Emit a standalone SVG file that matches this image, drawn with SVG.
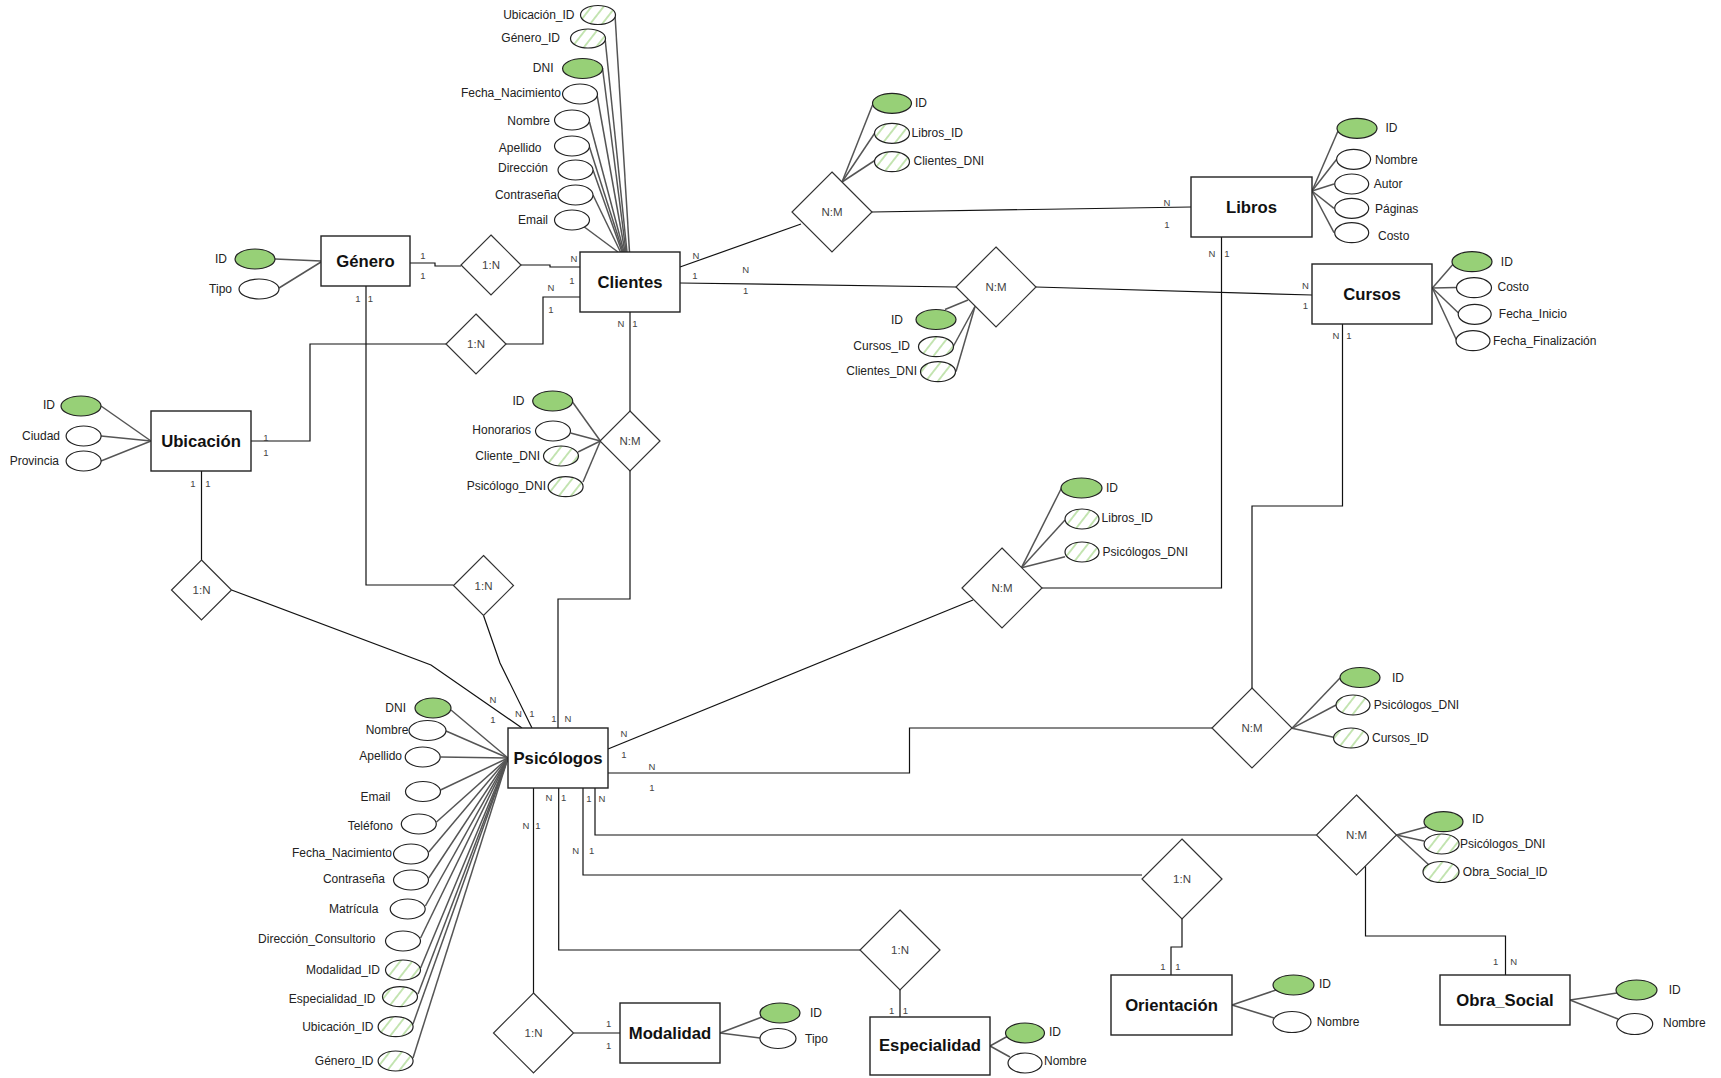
<svg xmlns="http://www.w3.org/2000/svg" width="1721" height="1078" viewBox="0 0 1721 1078">
<defs>
<pattern id="hatch" patternUnits="userSpaceOnUse" width="9.5" height="9.5" patternTransform="rotate(38)">
<rect width="9.5" height="9.5" fill="#fff"/>
<line x1="4.75" y1="0" x2="4.75" y2="9.5" stroke="#97D077" stroke-width="1.1"/>
</pattern>
<style>
.ent rect{fill:#fff;stroke:#222;stroke-width:1.4}
.ent text{font-family:"Liberation Sans",Arial,sans-serif;font-weight:bold;font-size:16.7px;fill:#111;text-anchor:middle;dominant-baseline:central}
.rel polygon{fill:#fff;stroke:#333;stroke-width:1.2}
.rel text{font-family:"Liberation Sans",Arial,sans-serif;font-size:11.5px;fill:#444;text-anchor:middle;dominant-baseline:central}
.att ellipse{fill:#fff;stroke:#222;stroke-width:1.2}
.att.pk ellipse{fill:#97D077}
.att.fk ellipse{fill:url(#hatch)}
.att text{font-family:"Liberation Sans",Arial,sans-serif;font-size:12px;fill:#222;dominant-baseline:central}
.att text.l{text-anchor:end}
#connectors path{fill:none;stroke:#111;stroke-width:1.2}
#connectors line{stroke:#555;stroke-width:1.5}
#connectors text{font-family:"Liberation Sans",Arial,sans-serif;font-size:9.5px;fill:#444;text-anchor:middle;dominant-baseline:central}
</style>
</defs>
<rect width="1721" height="1078" fill="#fff"/>

<g id="connectors">
<!-- relationship connectors -->
<path d="M410,263 H435 V266 H461"/>
<path d="M521,265 H550 V267 H580"/>
<path d="M580,297 H543 V344 H506"/>
<path d="M446,344 H310 V441 H251"/>
<path d="M366,286 V585 H453.5"/>
<path d="M483.5,615.5 L500,663 L532,728"/>
<path d="M201.5,471 V560"/>
<path d="M231.5,590 L431,665 L522,728"/>
<path d="M630,312 V411"/>
<path d="M630,471 V599 H558 V728"/>
<path d="M680,267 L801,224"/>
<path d="M872,212 L1191,207"/>
<path d="M680,283 L956,287"/>
<path d="M1036,287 L1312,295"/>
<path d="M1221.5,237 V588 H1042"/>
<path d="M973,600 L608,749"/>
<path d="M1342.5,324 V506 H1252 V688"/>
<path d="M1212,728 H909.5 V773 H608"/>
<path d="M595,788 V835 H1316.5"/>
<path d="M1365.5,866 V936 H1505.5 V975"/>
<path d="M583,788 V875 H1142"/>
<path d="M1182,919 V947 H1171 V975"/>
<path d="M558.7,788 V950 H860"/>
<path d="M900,990 V1017"/>
<path d="M533.5,788 V993"/>
<path d="M573.5,1033 H620"/>
<!-- attribute links -->
<line x1="615" y1="15" x2="629.5" y2="252"/>
<line x1="605" y1="38" x2="627" y2="252"/>
<line x1="602.5" y1="68" x2="626" y2="252"/>
<line x1="597" y1="95" x2="625" y2="252"/>
<line x1="589.5" y1="122" x2="624" y2="252"/>
<line x1="589.5" y1="147" x2="623" y2="252"/>
<line x1="593" y1="170" x2="622" y2="252"/>
<line x1="593" y1="195" x2="620.5" y2="252"/>
<line x1="583" y1="226" x2="618" y2="252"/>
<line x1="275" y1="259" x2="321" y2="261"/>
<line x1="279" y1="288" x2="321" y2="262"/>
<line x1="101" y1="406" x2="151" y2="441"/>
<line x1="101" y1="436" x2="151" y2="441"/>
<line x1="101" y1="461" x2="151" y2="441"/>
<line x1="572.5" y1="402" x2="600.4" y2="441"/>
<line x1="570.5" y1="433" x2="600.4" y2="441"/>
<line x1="578" y1="452" x2="600.4" y2="441"/>
<line x1="583" y1="482" x2="600.4" y2="441"/>
<line x1="874.5" y1="100" x2="842" y2="182"/>
<line x1="875.5" y1="132" x2="842" y2="182"/>
<line x1="875.5" y1="160" x2="842" y2="182"/>
<line x1="945" y1="309.5" x2="968" y2="300"/>
<line x1="953.5" y1="346" x2="975" y2="306.5"/>
<line x1="956" y1="371.5" x2="975" y2="306.5"/>
<line x1="1338" y1="131" x2="1312" y2="191"/>
<line x1="1336.7" y1="159.3" x2="1312" y2="191"/>
<line x1="1334" y1="184" x2="1312" y2="191"/>
<line x1="1334" y1="208.3" x2="1312" y2="191"/>
<line x1="1334" y1="232.7" x2="1312" y2="191"/>
<line x1="1455" y1="262" x2="1432.4" y2="288"/>
<line x1="1456.5" y1="287.5" x2="1432.4" y2="288"/>
<line x1="1458.5" y1="313" x2="1432.4" y2="288"/>
<line x1="1456.5" y1="340" x2="1432.4" y2="288"/>
<line x1="1062" y1="487" x2="1021.5" y2="567.7"/>
<line x1="1065" y1="520" x2="1021.5" y2="567.7"/>
<line x1="1065" y1="556.7" x2="1021.5" y2="567.7"/>
<line x1="1340" y1="678" x2="1292" y2="728.3"/>
<line x1="1336" y1="705" x2="1292" y2="728.3"/>
<line x1="1333.5" y1="737.3" x2="1292" y2="728.3"/>
<line x1="1426" y1="827" x2="1396.5" y2="835"/>
<line x1="1424" y1="841" x2="1396.5" y2="835"/>
<line x1="1429" y1="865" x2="1396.5" y2="835"/>
<line x1="451" y1="710" x2="508" y2="758"/>
<line x1="446" y1="731" x2="508" y2="758"/>
<line x1="440.5" y1="757" x2="508" y2="758"/>
<line x1="440.5" y1="790" x2="508" y2="758"/>
<line x1="436.5" y1="822" x2="508" y2="758"/>
<line x1="428.8" y1="852" x2="508" y2="758"/>
<line x1="428.8" y1="878" x2="508" y2="758"/>
<line x1="425.4" y1="906" x2="508" y2="758"/>
<line x1="420.6" y1="938" x2="508" y2="758"/>
<line x1="420.6" y1="968" x2="508" y2="758"/>
<line x1="418" y1="994" x2="508" y2="758"/>
<line x1="413" y1="1024" x2="508" y2="758"/>
<line x1="413" y1="1058" x2="508" y2="758"/>
<line x1="720" y1="1033" x2="762" y2="1017"/>
<line x1="720" y1="1033" x2="760" y2="1038"/>
<line x1="990" y1="1046" x2="1008" y2="1036"/>
<line x1="990" y1="1046" x2="1010" y2="1057"/>
<line x1="1232" y1="1005" x2="1276" y2="990"/>
<line x1="1232" y1="1005" x2="1274" y2="1018"/>
<line x1="1570" y1="1000" x2="1617" y2="993"/>
<line x1="1570" y1="1000" x2="1618" y2="1019"/>
<!-- cardinalities -->
<text x="423" y="255">1</text><text x="423" y="275">1</text>
<text x="574" y="258">N</text><text x="572" y="280">1</text>
<text x="551" y="287">N</text><text x="551" y="309">1</text>
<text x="266" y="437">1</text><text x="266" y="452">1</text>
<text x="358" y="298">1</text><text x="370.5" y="298">1</text>
<text x="193" y="483">1</text><text x="208" y="483">1</text>
<text x="621" y="323">N</text><text x="635" y="323">1</text>
<text x="696" y="255">N</text><text x="695" y="275">1</text>
<text x="745.6" y="269">N</text><text x="745.6" y="290">1</text>
<text x="1167" y="202">N</text><text x="1167" y="224">1</text>
<text x="1212" y="253">N</text><text x="1227" y="253">1</text>
<text x="1305.5" y="285">N</text><text x="1305.5" y="305">1</text>
<text x="1336" y="335">N</text><text x="1349" y="335">1</text>
<text x="493" y="699">N</text><text x="493" y="719">1</text>
<text x="518.5" y="713">N</text><text x="532" y="713">1</text>
<text x="554" y="718">1</text><text x="568" y="718">N</text>
<text x="624" y="733">N</text><text x="624" y="754">1</text>
<text x="652" y="766">N</text><text x="652" y="787">1</text>
<text x="526" y="825">N</text><text x="538" y="825">1</text>
<text x="549" y="797">N</text><text x="563.6" y="797">1</text>
<text x="589" y="798">1</text><text x="602" y="798">N</text>
<text x="575.7" y="850">N</text><text x="591.7" y="850">1</text>
<text x="608.6" y="1023">1</text><text x="608.6" y="1045">1</text>
<text x="891.7" y="1010">1</text><text x="905.5" y="1010">1</text>
<text x="1163" y="966">1</text><text x="1178" y="966">1</text>
<text x="1495.7" y="961">1</text><text x="1513.7" y="961">N</text>
</g>

<!-- Entities -->
<g id="genero" class="ent"><rect x="321" y="236" width="89" height="50"/><text x="365.5" y="261">Género</text></g>
<g id="clientes" class="ent"><rect x="580" y="252" width="100" height="60"/><text x="630" y="282">Clientes</text></g>
<g id="libros" class="ent"><rect x="1191" y="177" width="121" height="60"/><text x="1251.5" y="207">Libros</text></g>
<g id="cursos" class="ent"><rect x="1312" y="264" width="120" height="60"/><text x="1372" y="294">Cursos</text></g>
<g id="ubicacion" class="ent"><rect x="151" y="411" width="100" height="60"/><text x="201" y="441">Ubicación</text></g>
<g id="psicologos" class="ent"><rect x="508" y="728" width="100" height="60"/><text x="558" y="758">Psicólogos</text></g>
<g id="modalidad" class="ent"><rect x="620" y="1003" width="100" height="60"/><text x="670" y="1033">Modalidad</text></g>
<g id="especialidad" class="ent"><rect x="870" y="1017" width="120" height="58"/><text x="930" y="1045">Especialidad</text></g>
<g id="orientacion" class="ent"><rect x="1111" y="975" width="121" height="60"/><text x="1171.5" y="1005">Orientación</text></g>
<g id="obra_social" class="ent"><rect x="1440" y="975" width="130" height="50"/><text x="1505" y="1000">Obra_Social</text></g>

<!-- Relationships -->
<g id="rel_genero_clientes" class="rel"><polygon points="491,235 521,265 491,295 461,265"/><text x="491" y="265">1:N</text></g>
<g id="rel_ubicacion_clientes" class="rel"><polygon points="476,314 506,344 476,374 446,344"/><text x="476" y="344">1:N</text></g>
<g id="rel_clientes_psicologos" class="rel"><polygon points="630,411 660,441 630,471 600,441"/><text x="630" y="441">N:M</text></g>
<g id="rel_ubicacion_psicologos" class="rel"><polygon points="201.5,560 231.5,590 201.5,620 171.5,590"/><text x="201.5" y="590">1:N</text></g>
<g id="rel_genero_psicologos" class="rel"><polygon points="483.5,555.5 513.5,585.5 483.5,615.5 453.5,585.5"/><text x="483.5" y="585.5">1:N</text></g>
<g id="rel_clientes_libros" class="rel"><polygon points="832,172 872,212 832,252 792,212"/><text x="832" y="212">N:M</text></g>
<g id="rel_clientes_cursos" class="rel"><polygon points="996,247 1036,287 996,327 956,287"/><text x="996" y="287">N:M</text></g>
<g id="rel_libros_psicologos" class="rel"><polygon points="1002,548 1042,588 1002,628 962,588"/><text x="1002" y="588">N:M</text></g>
<g id="rel_cursos_psicologos" class="rel"><polygon points="1252,688 1292,728 1252,768 1212,728"/><text x="1252" y="728">N:M</text></g>
<g id="rel_obra_psicologos" class="rel"><polygon points="1356.5,795 1396.5,835 1356.5,875 1316.5,835"/><text x="1356.5" y="835">N:M</text></g>
<g id="rel_orientacion_psicologos" class="rel"><polygon points="1182,839 1222,879 1182,919 1142,879"/><text x="1182" y="879">1:N</text></g>
<g id="rel_especialidad_psicologos" class="rel"><polygon points="900,910 940,950 900,990 860,950"/><text x="900" y="950">1:N</text></g>
<g id="rel_modalidad_psicologos" class="rel"><polygon points="533.5,993 573.5,1033 533.5,1073 493.5,1033"/><text x="533.5" y="1033">1:N</text></g>

<!-- Attributes: Clientes -->
<g id="a_cli_ubicacion" class="att fk"><ellipse cx="598" cy="15" rx="17.5" ry="9.5"/><text class="l" x="574.5" y="15">Ubicación_ID</text></g>
<g id="a_cli_genero" class="att fk"><ellipse cx="588" cy="38.5" rx="17.5" ry="9.5"/><text class="l" x="560" y="38">Género_ID</text></g>
<g id="a_cli_dni" class="att pk"><ellipse cx="582.6" cy="68.5" rx="20" ry="10"/><text class="l" x="553.5" y="68">DNI</text></g>
<g id="a_cli_fecha" class="att"><ellipse cx="580" cy="94" rx="17.5" ry="10"/><text class="l" x="561" y="93">Fecha_Nacimiento</text></g>
<g id="a_cli_nombre" class="att"><ellipse cx="572" cy="120" rx="17.5" ry="10"/><text class="l" x="550" y="120.5">Nombre</text></g>
<g id="a_cli_apellido" class="att"><ellipse cx="572" cy="146" rx="17.5" ry="10"/><text class="l" x="541.5" y="147.5">Apellido</text></g>
<g id="a_cli_direccion" class="att"><ellipse cx="575.5" cy="170" rx="17.5" ry="10"/><text class="l" x="548" y="168">Dirección</text></g>
<g id="a_cli_contrasena" class="att"><ellipse cx="575.5" cy="195" rx="17.5" ry="10"/><text class="l" x="557" y="194.5">Contraseña</text></g>
<g id="a_cli_email" class="att"><ellipse cx="572" cy="220" rx="17.5" ry="10"/><text class="l" x="548" y="220">Email</text></g>

<!-- Attributes: Género -->
<g id="a_gen_id" class="att pk"><ellipse cx="255" cy="259" rx="20" ry="10"/><text class="l" x="227" y="259">ID</text></g>
<g id="a_gen_tipo" class="att"><ellipse cx="259" cy="289" rx="20" ry="10"/><text class="l" x="232" y="289">Tipo</text></g>

<!-- Attributes: Ubicación -->
<g id="a_ubi_id" class="att pk"><ellipse cx="81" cy="406" rx="20" ry="10"/><text class="l" x="55" y="405">ID</text></g>
<g id="a_ubi_ciudad" class="att"><ellipse cx="83.6" cy="436" rx="17.5" ry="10"/><text class="l" x="60" y="436">Ciudad</text></g>
<g id="a_ubi_provincia" class="att"><ellipse cx="83.6" cy="461" rx="17.5" ry="10"/><text class="l" x="59" y="461">Provincia</text></g>

<!-- Attributes: Clientes-Psicólogos N:M -->
<g id="a_cp_id" class="att pk"><ellipse cx="552.7" cy="401" rx="20" ry="10"/><text class="l" x="524.5" y="401">ID</text></g>
<g id="a_cp_honorarios" class="att"><ellipse cx="553" cy="431" rx="17.5" ry="10"/><text class="l" x="531" y="430">Honorarios</text></g>
<g id="a_cp_cliente" class="att fk"><ellipse cx="561" cy="456" rx="17.5" ry="10"/><text class="l" x="540" y="456">Cliente_DNI</text></g>
<g id="a_cp_psicologo" class="att fk"><ellipse cx="565.6" cy="486.7" rx="17.5" ry="10"/><text class="l" x="546" y="486">Psicólogo_DNI</text></g>

<!-- Attributes: Clientes-Libros N:M -->
<g id="a_cl_id" class="att pk"><ellipse cx="892" cy="103.3" rx="19.5" ry="10"/><text x="915" y="103">ID</text></g>
<g id="a_cl_libros" class="att fk"><ellipse cx="892" cy="133.3" rx="17.5" ry="10"/><text x="911.6" y="133">Libros_ID</text></g>
<g id="a_cl_clientes" class="att fk"><ellipse cx="892" cy="161.7" rx="17.5" ry="10"/><text x="913.5" y="161">Clientes_DNI</text></g>

<!-- Attributes: Clientes-Cursos N:M -->
<g id="a_cc_id" class="att pk"><ellipse cx="936" cy="319.5" rx="20" ry="10"/><text class="l" x="903" y="320">ID</text></g>
<g id="a_cc_cursos" class="att fk"><ellipse cx="936" cy="346.7" rx="17.5" ry="10"/><text class="l" x="910" y="346">Cursos_ID</text></g>
<g id="a_cc_clientes" class="att fk"><ellipse cx="938" cy="371.7" rx="17.5" ry="10"/><text class="l" x="917" y="371">Clientes_DNI</text></g>

<!-- Attributes: Libros -->
<g id="a_lib_id" class="att pk"><ellipse cx="1357" cy="128.3" rx="20" ry="10"/><text x="1385.5" y="128">ID</text></g>
<g id="a_lib_nombre" class="att"><ellipse cx="1353.6" cy="159.3" rx="17" ry="10"/><text x="1375" y="160">Nombre</text></g>
<g id="a_lib_autor" class="att"><ellipse cx="1351.7" cy="184" rx="17" ry="10"/><text x="1373.8" y="184">Autor</text></g>
<g id="a_lib_paginas" class="att"><ellipse cx="1351.7" cy="208.3" rx="17" ry="10"/><text x="1375" y="209">Páginas</text></g>
<g id="a_lib_costo" class="att"><ellipse cx="1351.7" cy="232.7" rx="17" ry="10"/><text x="1378" y="236">Costo</text></g>

<!-- Attributes: Cursos -->
<g id="a_cur_id" class="att pk"><ellipse cx="1472" cy="261.7" rx="20" ry="10"/><text x="1500.8" y="262">ID</text></g>
<g id="a_cur_costo" class="att"><ellipse cx="1474" cy="287.7" rx="17.5" ry="10"/><text x="1497.5" y="287">Costo</text></g>
<g id="a_cur_inicio" class="att"><ellipse cx="1474.7" cy="314.3" rx="16.5" ry="10"/><text x="1498.8" y="314">Fecha_Inicio</text></g>
<g id="a_cur_fin" class="att"><ellipse cx="1473" cy="340.7" rx="17" ry="10"/><text x="1493" y="341">Fecha_Finalización</text></g>

<!-- Attributes: Libros-Psicólogos N:M -->
<g id="a_lp_id" class="att pk"><ellipse cx="1081.5" cy="488" rx="20.5" ry="10"/><text x="1106" y="488">ID</text></g>
<g id="a_lp_libros" class="att fk"><ellipse cx="1082" cy="519" rx="17" ry="10"/><text x="1101.6" y="518">Libros_ID</text></g>
<g id="a_lp_psicologos" class="att fk"><ellipse cx="1082" cy="552" rx="17" ry="10"/><text x="1102.6" y="552">Psicólogos_DNI</text></g>

<!-- Attributes: Cursos-Psicólogos N:M -->
<g id="a_cup_id" class="att pk"><ellipse cx="1360" cy="677.5" rx="20" ry="10"/><text x="1392" y="678">ID</text></g>
<g id="a_cup_psicologos" class="att fk"><ellipse cx="1353" cy="705" rx="17" ry="10"/><text x="1373.8" y="705">Psicólogos_DNI</text></g>
<g id="a_cup_cursos" class="att fk"><ellipse cx="1351" cy="738" rx="17.5" ry="10"/><text x="1372" y="738">Cursos_ID</text></g>

<!-- Attributes: Obra-Psicólogos N:M -->
<g id="a_op_id" class="att pk"><ellipse cx="1443.5" cy="821.7" rx="19.5" ry="10"/><text x="1472" y="819">ID</text></g>
<g id="a_op_psicologos" class="att fk"><ellipse cx="1441.6" cy="844" rx="17.5" ry="10"/><text x="1460" y="844">Psicólogos_DNI</text></g>
<g id="a_op_obra" class="att fk"><ellipse cx="1441" cy="872" rx="18" ry="10.5"/><text x="1462.8" y="872">Obra_Social_ID</text></g>

<!-- Attributes: Psicólogos -->
<g id="a_psi_dni" class="att pk"><ellipse cx="433" cy="708" rx="18" ry="10"/><text class="l" x="406" y="708">DNI</text></g>
<g id="a_psi_nombre" class="att"><ellipse cx="427.5" cy="730.5" rx="18.5" ry="10"/><text class="l" x="408.4" y="730">Nombre</text></g>
<g id="a_psi_apellido" class="att"><ellipse cx="422.7" cy="757" rx="17.5" ry="10"/><text class="l" x="402" y="756">Apellido</text></g>
<g id="a_psi_email" class="att"><ellipse cx="423" cy="791.5" rx="17.5" ry="10"/><text class="l" x="390.5" y="797">Email</text></g>
<g id="a_psi_telefono" class="att"><ellipse cx="418.8" cy="824" rx="17.5" ry="10"/><text class="l" x="393" y="826">Teléfono</text></g>
<g id="a_psi_fecha" class="att"><ellipse cx="411" cy="854" rx="17.5" ry="10"/><text class="l" x="392" y="853">Fecha_Nacimiento</text></g>
<g id="a_psi_contrasena" class="att"><ellipse cx="411" cy="880" rx="17.5" ry="10"/><text class="l" x="385" y="879">Contraseña</text></g>
<g id="a_psi_matricula" class="att"><ellipse cx="407.7" cy="909" rx="17.5" ry="10"/><text class="l" x="378.4" y="909">Matrícula</text></g>
<g id="a_psi_direccion" class="att"><ellipse cx="403" cy="941" rx="17.5" ry="10"/><text class="l" x="375.5" y="939">Dirección_Consultorio</text></g>
<g id="a_psi_modalidad" class="att fk"><ellipse cx="403" cy="970" rx="17.5" ry="10"/><text class="l" x="380" y="970">Modalidad_ID</text></g>
<g id="a_psi_especialidad" class="att fk"><ellipse cx="400" cy="996.7" rx="17.5" ry="10"/><text class="l" x="375.5" y="999">Especialidad_ID</text></g>
<g id="a_psi_ubicacion" class="att fk"><ellipse cx="395.6" cy="1026.7" rx="17.5" ry="10"/><text class="l" x="373.5" y="1027">Ubicación_ID</text></g>
<g id="a_psi_genero" class="att fk"><ellipse cx="395.6" cy="1061" rx="17.5" ry="10"/><text class="l" x="373.5" y="1061">Género_ID</text></g>

<!-- Attributes: Modalidad -->
<g id="a_mod_id" class="att pk"><ellipse cx="780" cy="1013" rx="20" ry="10"/><text x="810" y="1013">ID</text></g>
<g id="a_mod_tipo" class="att"><ellipse cx="778" cy="1038.5" rx="18" ry="10"/><text x="805" y="1039">Tipo</text></g>

<!-- Attributes: Especialidad -->
<g id="a_esp_id" class="att pk"><ellipse cx="1025" cy="1033" rx="19.5" ry="10"/><text x="1049" y="1032">ID</text></g>
<g id="a_esp_nombre" class="att"><ellipse cx="1025" cy="1063" rx="17" ry="10"/><text x="1044" y="1061">Nombre</text></g>

<!-- Attributes: Orientación -->
<g id="a_ori_id" class="att pk"><ellipse cx="1293.5" cy="985" rx="20.5" ry="10"/><text x="1319" y="984">ID</text></g>
<g id="a_ori_nombre" class="att"><ellipse cx="1292" cy="1022" rx="19" ry="10.5"/><text x="1316.7" y="1022">Nombre</text></g>

<!-- Attributes: Obra_Social -->
<g id="a_obra_id" class="att pk"><ellipse cx="1636.5" cy="990" rx="20.5" ry="10"/><text x="1668.7" y="990">ID</text></g>
<g id="a_obra_nombre" class="att"><ellipse cx="1634.7" cy="1024" rx="18" ry="10.5"/><text x="1663" y="1023">Nombre</text></g>
</svg>
